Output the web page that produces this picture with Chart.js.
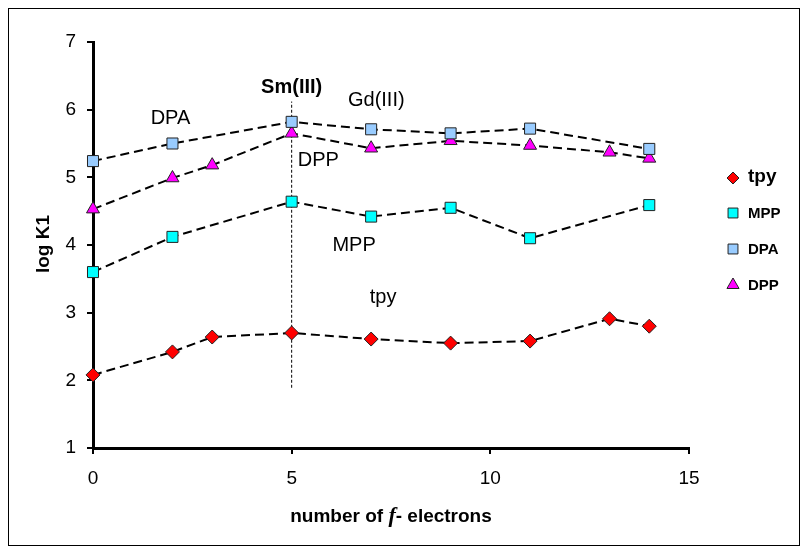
<!DOCTYPE html>
<html>
<head>
<meta charset="utf-8">
<script src="https://cdn.jsdelivr.net/npm/chart.js@4.4.1/dist/chart.umd.min.js"></script>
<style>
  html, body { margin: 0; padding: 0; background: #fff; }
</style>
</head>
<body>
<canvas id="chart" width="808" height="553"></canvas>
<script>
// data
const tpyX = [0, 2, 3, 5, 7, 9, 11, 13, 14];
const tpyY = [2.08, 2.42, 2.64, 2.70, 2.61, 2.55, 2.58, 2.91, 2.80];
const mppX = [0, 2, 5, 7, 9, 11, 14];
const mppY = [3.60, 4.12, 4.64, 4.42, 4.55, 4.10, 4.59];
const dpaX = [0, 2, 5, 7, 9, 11, 14];
const dpaY = [5.24, 5.50, 5.82, 5.71, 5.65, 5.72, 5.42];
const dppX = [0, 2, 3, 5, 7, 9, 11, 13, 14];
const dppY = [4.53, 4.99, 5.18, 5.65, 5.43, 5.54, 5.47, 5.37, 5.28];
const smLineX = [5, 5];
const smLineY = [1.89, 6.12];
const xTicks = [0, 5, 10, 15];
const yTicks = [1, 2, 3, 4, 5, 6, 7];

const seriesNames = ['tpy', 'MPP', 'DPA', 'DPP'];

// text labels placed inside the plot (data coordinates)
const notes = [
    { text: 'DPA', x: 1.95, y: 5.87, bold: false },
    { text: 'Sm(III)', x: 5.0, y: 6.33, bold: true },
    { text: 'Gd(III)', x: 7.13, y: 6.14, bold: false },
    { text: 'DPP', x: 5.67, y: 5.25, bold: false },
    { text: 'MPP', x: 6.57, y: 4.0, bold: false },
    { text: 'tpy', x: 7.3, y: 3.23, bold: false }
];

function toPoints(xs, ys) {
    return xs.map((x, i) => ({ x: x, y: ys[i] }));
}

const FONT = '"Liberation Sans", Arial, sans-serif';

const styles = {
    tpy: { color: '#ff0000', shape: 'rectRot', r: 7 },
    MPP: { color: '#00ffff', shape: 'rect', r: 7.8 },
    DPA: { color: '#99ccff', shape: 'rect', r: 7.8 },
    DPP: { color: '#ff00ff', shape: 'triangle', r: 7.5 }
};

function seriesSet(name, xs, ys) {
    const st = styles[name];
    return {
        label: name,
        data: toPoints(xs, ys),
        showLine: true,
        clip: false,
        borderColor: '#000',
        borderWidth: 2,
        borderDash: [9, 5],
        pointStyle: st.shape,
        pointRadius: st.r,
        pointBackgroundColor: st.color,
        pointBorderColor: '#222',
        pointBorderWidth: 1
    };
}

function drawMarker(ctx, shape, x, y, r, color) {
    ctx.save();
    ctx.fillStyle = color;
    ctx.strokeStyle = '#222';
    ctx.lineWidth = 1;
    ctx.beginPath();
    if (shape == 'rect') {
        const s = r * Math.SQRT1_2;
        ctx.rect(x - s, y - s, 2 * s, 2 * s);
    } else if (shape == 'rectRot') {
        ctx.moveTo(x - r, y);
        ctx.lineTo(x, y - r);
        ctx.lineTo(x + r, y);
        ctx.lineTo(x, y + r);
        ctx.closePath();
    } else {
        ctx.moveTo(x, y - r);
        ctx.lineTo(x + r * 0.866, y + r / 2);
        ctx.lineTo(x - r * 0.866, y + r / 2);
        ctx.closePath();
    }
    ctx.fill();
    ctx.stroke();
    ctx.restore();
}

const decorations = {
    id: 'decorations',
    beforeDraw(chart) {
        const ctx = chart.ctx;
        ctx.save();
        ctx.fillStyle = '#fff';
        ctx.fillRect(0, 0, chart.width, chart.height);
        ctx.restore();
    },
    afterDraw(chart) {
        const ctx = chart.ctx;
        const xs = chart.scales.x;
        const ys = chart.scales.y;
        ctx.save();

        // outer frame
        ctx.strokeStyle = '#000';
        ctx.lineWidth = 1;
        ctx.strokeRect(8.5, 8.5, 791, 537);

        // labels in the plot
        ctx.fillStyle = '#000';
        ctx.textAlign = 'center';
        ctx.textBaseline = 'middle';
        notes.forEach(n => {
            ctx.font = (n.bold ? 'bold ' : '') + '20px ' + FONT;
            ctx.fillText(n.text, xs.getPixelForValue(n.x), ys.getPixelForValue(n.y));
        });

        // y axis title
        ctx.save();
        ctx.translate(44, 244);
        ctx.rotate(-Math.PI / 2);
        ctx.font = 'bold 19px ' + FONT;
        ctx.fillText('log K1', 0, 0);
        ctx.restore();

        // x axis title, with an italic serif f
        const parts = [
            { t: 'number of ', f: 'bold 19px ' + FONT },
            { t: 'f', f: 'italic bold 22px "Liberation Serif", "Times New Roman", serif' },
            { t: '- electrons', f: 'bold 19px ' + FONT }
        ];
        let total = 0;
        parts.forEach(p => { ctx.font = p.f; p.w = ctx.measureText(p.t).width; total += p.w; });
        let cx = (chart.chartArea.left + chart.chartArea.right) / 2 - total / 2;
        ctx.textAlign = 'left';
        ctx.textBaseline = 'alphabetic';
        parts.forEach(p => { ctx.font = p.f; ctx.fillText(p.t, cx, 522); cx += p.w; });

        // legend
        const legendY = [178, 213, 249, 285];
        seriesNames.forEach((name, i) => {
            const st = styles[name];
            drawMarker(ctx, st.shape, 733, legendY[i], name == 'tpy' ? 6 : 7, st.color);
            ctx.fillStyle = '#000';
            ctx.textBaseline = 'middle';
            ctx.font = name == 'tpy' ? 'bold 19px ' + FONT : 'bold 15px ' + FONT;
            ctx.fillText(name, 748, legendY[i] + (name == 'tpy' ? -1 : 1));
        });

        ctx.restore();
    }
};

const ctx = document.getElementById('chart').getContext('2d');
const chart = new Chart(ctx, {
    type: 'scatter',
    data: {
        datasets: [
            seriesSet('tpy', tpyX, tpyY),
            seriesSet('MPP', mppX, mppY),
            seriesSet('DPA', dpaX, dpaY),
            seriesSet('DPP', dppX, dppY),
            {
                label: 'Sm',
                data: toPoints(smLineX, smLineY),
                showLine: true,
                borderColor: '#000',
                borderWidth: 1,
                borderDash: [3, 2],
                pointRadius: 0
            }
        ]
    },
    options: {
        responsive: false,
        animation: false,
        layout: { padding: { left: 0, top: 42, right: 119, bottom: 0 } },
        plugins: {
            legend: { display: false },
            tooltip: { enabled: false }
        },
        scales: {
            x: {
                type: 'linear',
                min: 0,
                max: 15,
                afterBuildTicks: (scale) => { scale.ticks = xTicks.map(v => ({ value: v })); },
                afterFit: (scale) => { scale.height = 105; },
                ticks: { color: '#000', font: { family: FONT, size: 19 }, padding: 13, maxRotation: 0 },
                grid: { drawOnChartArea: false, drawTicks: true, tickLength: 6, color: '#000', lineWidth: 2 },
                border: { color: '#000', width: 3 }
            },
            y: {
                min: 1,
                max: 7,
                afterBuildTicks: (scale) => { scale.ticks = yTicks.map(v => ({ value: v })); },
                afterFit: (scale) => { scale.width = 93; },
                ticks: { color: '#000', font: { family: FONT, size: 19 }, padding: 11 },
                grid: { drawOnChartArea: false, drawTicks: true, tickLength: 6, color: '#000', lineWidth: 2 },
                border: { color: '#000', width: 3 }
            }
        }
    },
    plugins: [decorations]
});
</script>
</body>
</html>
